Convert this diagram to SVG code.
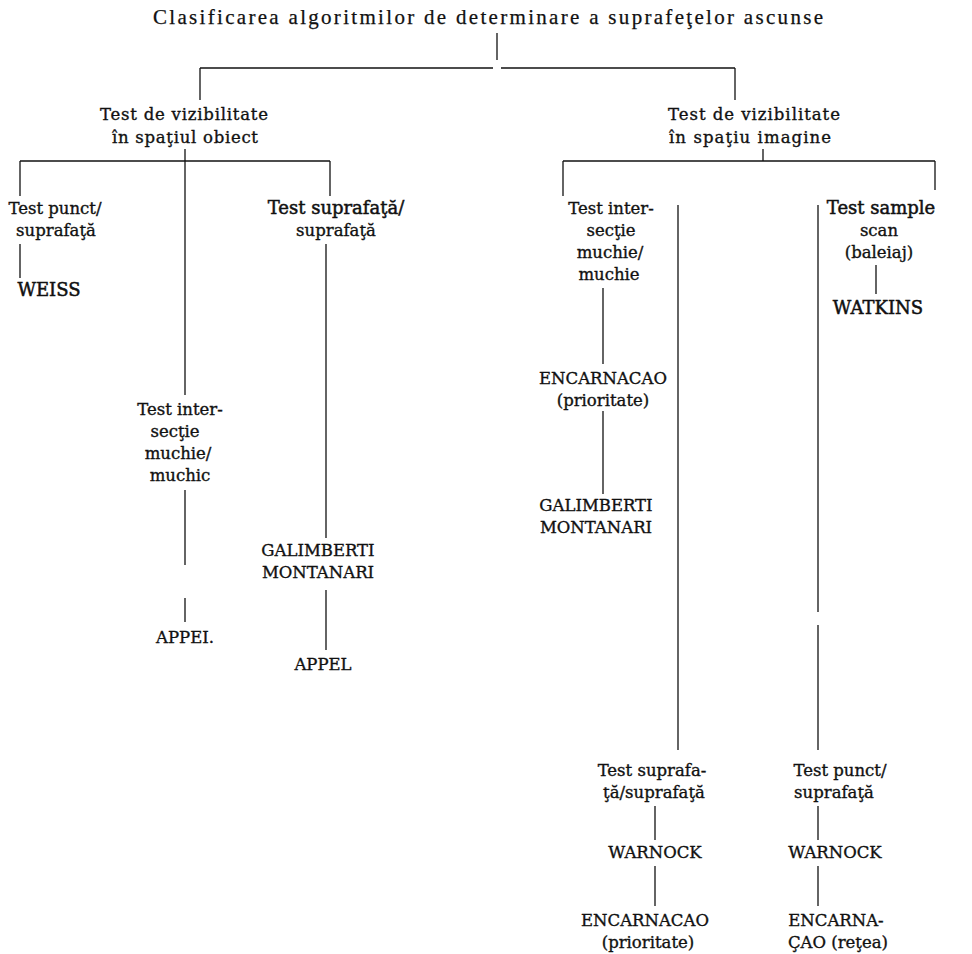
<svg xmlns="http://www.w3.org/2000/svg" width="972" height="954" viewBox="0 0 972 954">
<style>
  .t { font-family: "DejaVu Serif", "Liberation Serif", serif; font-size: 16.5px; fill: #111; stroke: #111; stroke-width: 0.35; text-anchor: middle; }
  .big { font-size: 18px; stroke-width: 0.5; }
  .title { font-family: "Liberation Serif", serif; font-size: 21px; fill: #111; stroke: #111; stroke-width: 0.25; text-anchor: middle; }
  .c line { stroke: #111; stroke-width: 1.3; }
</style>
<rect width="972" height="954" fill="#fff"/>
<g id="connectors" class="c">
  <line x1="497" y1="33" x2="497" y2="60"/>
  <line x1="200" y1="68" x2="493" y2="68"/>
  <line x1="501" y1="68" x2="735" y2="68"/>
  <line x1="200" y1="68" x2="200" y2="100"/>
  <line x1="735" y1="68" x2="735" y2="100"/>
  <line x1="185" y1="149" x2="185" y2="161"/>
  <line x1="20" y1="161" x2="330" y2="161"/>
  <line x1="20" y1="161" x2="20" y2="196"/>
  <line x1="185" y1="161" x2="185" y2="395"/>
  <line x1="330" y1="161" x2="330" y2="196"/>
  <line x1="20" y1="244" x2="20" y2="278"/>
  <line x1="185" y1="490" x2="185" y2="565"/>
  <line x1="185" y1="598" x2="185" y2="622"/>
  <line x1="326" y1="244" x2="326" y2="538"/>
  <line x1="326" y1="590" x2="326" y2="650"/>
  <line x1="763" y1="149" x2="763" y2="161"/>
  <line x1="563" y1="161" x2="935" y2="161"/>
  <line x1="563" y1="161" x2="563" y2="196"/>
  <line x1="935" y1="161" x2="935" y2="190"/>
  <line x1="603" y1="288" x2="603" y2="364"/>
  <line x1="603" y1="411" x2="603" y2="494"/>
  <line x1="678" y1="205" x2="678" y2="750"/>
  <line x1="818" y1="205" x2="818" y2="612"/>
  <line x1="818" y1="625" x2="818" y2="750"/>
  <line x1="876" y1="265" x2="876" y2="294"/>
  <line x1="655" y1="806" x2="655" y2="840"/>
  <line x1="655" y1="866" x2="655" y2="906"/>
  <line x1="818" y1="806" x2="818" y2="840"/>
  <line x1="818" y1="866" x2="818" y2="906"/>
</g>
<g id="n-root"><text class="title" x="488" y="24" textLength="670" lengthAdjust="spacing">Clasificarea algoritmilor de determinare a suprafeţelor ascunse</text></g>
<g id="n-obiect"><text class="t" x="184" y="120" textLength="168" lengthAdjust="spacing">Test de vizibilitate</text><text class="t" x="185" y="143" textLength="146" lengthAdjust="spacing">în spaţiul obiect</text></g>
<g id="n-imagine"><text class="t" x="754" y="120" textLength="172" lengthAdjust="spacing">Test de vizibilitate</text><text class="t" x="750" y="143" textLength="162" lengthAdjust="spacing">în spaţiu imagine</text></g>
<g id="n-o-punct"><text class="t" x="55" y="214">Test punct/</text><text class="t" x="56" y="236">suprafaţă</text></g>
<g id="n-weiss"><text class="t big" x="49" y="296">WEISS</text></g>
<g id="n-o-inter"><text class="t" x="180" y="415">Test inter-</text><text class="t" x="175" y="437">secţie</text><text class="t" x="178" y="459">muchie/</text><text class="t" x="180" y="481">muchic</text></g>
<g id="n-appel1"><text class="t" x="185" y="643">APPEI.</text></g>
<g id="n-o-supr"><text class="t big" x="336" y="214">Test suprafaţă/</text><text class="t" x="336" y="236">suprafaţă</text></g>
<g id="n-galim1"><text class="t" x="318" y="556">GALIMBERTI</text><text class="t" x="318" y="578">MONTANARI</text></g>
<g id="n-appel2"><text class="t" x="323" y="670">APPEL</text></g>
<g id="n-i-inter"><text class="t" x="611" y="214">Test inter-</text><text class="t" x="611" y="236">secţie</text><text class="t" x="610" y="258">muchie/</text><text class="t" x="609" y="280">muchie</text></g>
<g id="n-enc1"><text class="t" x="603" y="384">ENCARNACAO</text><text class="t" x="603" y="406">(prioritate)</text></g>
<g id="n-galim2"><text class="t" x="596" y="511">GALIMBERTI</text><text class="t" x="596" y="533">MONTANARI</text></g>
<g id="n-sample"><text class="t big" x="881" y="214">Test sample</text><text class="t" x="879" y="236">scan</text><text class="t" x="879" y="258">(baleiaj)</text></g>
<g id="n-watkins"><text class="t big" x="878" y="314">WATKINS</text></g>
<g id="n-i-supr"><text class="t" x="652" y="776">Test suprafa-</text><text class="t" x="654" y="798">ţă/suprafaţă</text></g>
<g id="n-warnock1"><text class="t" x="655" y="858">WARNOCK</text></g>
<g id="n-enc2"><text class="t" x="645" y="926">ENCARNACAO</text><text class="t" x="648" y="948">(prioritate)</text></g>
<g id="n-i-punct"><text class="t" x="840" y="776">Test punct/</text><text class="t" x="834" y="798">suprafaţă</text></g>
<g id="n-warnock2"><text class="t" x="835" y="858">WARNOCK</text></g>
<g id="n-enc3"><text class="t" x="836" y="926">ENCARNA-</text><text class="t" x="838" y="948">ÇAO (reţea)</text></g>
</svg>
